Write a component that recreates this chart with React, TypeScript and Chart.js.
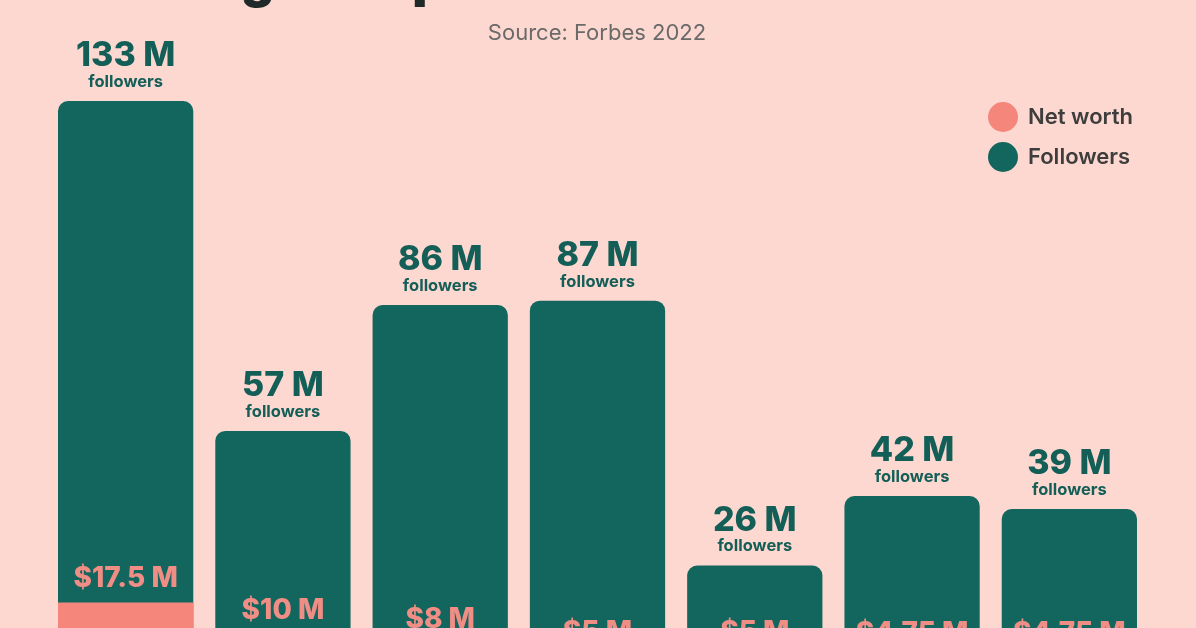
import React, { useEffect, useRef } from "react";
import { Chart, registerables } from "chart.js";

Chart.register(...registerables);

const categories = [
  "Charli D'Amelio",
  "Dixie D'Amelio",
  "Addison Rae",
  "Bella Poarch",
  "Josh Richards",
  "Michael Le",
  "Spencer X",
];
const followers = [133, 57, 86, 87, 26, 42, 39];
const netWorth = [17.5, 10, 8, 5, 5, 4.75, 4.75];
const followerLabels = ["133 M", "57 M", "86 M", "87 M", "26 M", "42 M", "39 M"];
const netWorthLabels = ["$17.5 M", "$10 M", "$8 M", "$5 M", "$5 M", "$4.75 M", "$4.75 M"];
const seriesNames = ["Net worth", "Followers"];
const titleText = "Highest-paid TikTok creators";
const subtitleText = "Source: Forbes 2022";

const BG = "#FDD8D0";
const TEAL = "#12665E";
const TEAL_TEXT = "#135E57";
const CORAL = "#F5867C";
const CORAL_TEXT = "#F08E85";

const decorPlugin = {
  id: "decor",
  beforeDraw(chart: any) {
    const { ctx, width, height } = chart;
    ctx.save();
    ctx.fillStyle = BG;
    ctx.fillRect(0, 0, width, height);
    ctx.restore();
  },
  afterDatasetsDraw(chart: any) {
    const { ctx } = chart;
    const fMeta = chart.getDatasetMeta(1);
    const nMeta = chart.getDatasetMeta(0);
    ctx.save();
    ctx.textAlign = "center";
    ctx.textBaseline = "middle";
    fMeta.data.forEach((bar: any, i: number) => {
      ctx.fillStyle = TEAL_TEXT;
      ctx.font = "800 34px Inter";
      ctx.fillText(followerLabels[i], bar.x, bar.y - 45);
      ctx.font = "700 16.5px Inter";
      ctx.fillText("followers", bar.x, bar.y - 19);
    });
    nMeta.data.forEach((bar: any, i: number) => {
      ctx.fillStyle = CORAL_TEXT;
      ctx.font = "800 28px Inter";
      ctx.fillText(netWorthLabels[i], bar.x, bar.y - 24);
    });
    // title (mostly above the visible area) and subtitle
    ctx.fillStyle = "#1f2a28";
    ctx.font = "900 51px Inter";
    ctx.textAlign = "left";
    ctx.textBaseline = "alphabetic";
    ctx.fillText(titleText, 188, -3);
    ctx.textAlign = "center";
    ctx.fillStyle = "#6a6a6a";
    ctx.font = "400 22px Inter";
    ctx.textBaseline = "middle";
    ctx.fillText(subtitleText, 597, 33);
    // legend
    const colors = [CORAL, TEAL];
    ctx.textAlign = "left";
    seriesNames.forEach((name, i) => {
      const cy = 117 + i * 40;
      ctx.beginPath();
      ctx.arc(1003, cy, 15, 0, Math.PI * 2);
      ctx.fillStyle = colors[i];
      ctx.fill();
      ctx.fillStyle = "#3d3d3d";
      ctx.font = "600 22px Inter";
      ctx.fillText(name, 1028, cy);
    });
    ctx.restore();
  },
};

export default function App() {
  const ref = useRef<HTMLCanvasElement>(null);
  useEffect(() => {
    document.body.style.margin = "0";
    document.body.style.background = BG;
    const chart = new Chart(ref.current!, {
      type: "bar",
      data: {
        labels: categories,
        datasets: [
          {
            label: seriesNames[0],
            data: netWorth,
            backgroundColor: CORAL,
            borderRadius: 0,
            grouped: false,
            order: 0,
            barPercentage: 0.86,
            categoryPercentage: 1,
          } as any,
          {
            label: seriesNames[1],
            data: followers,
            backgroundColor: TEAL,
            borderRadius: { topLeft: 10, topRight: 10, bottomLeft: 0, bottomRight: 0 },
            borderSkipped: false,
            grouped: false,
            order: 1,
            barPercentage: 0.86,
            categoryPercentage: 1,
          } as any,
        ],
      },
      options: {
        animation: false,
        responsive: false,
        maintainAspectRatio: false,
        devicePixelRatio: 1,
        layout: { padding: { left: 47, right: 48, top: 101, bottom: 0 } },
        plugins: { legend: { display: false }, tooltip: { enabled: false } },
        scales: {
          x: { display: false },
          y: { display: false, min: 11.6, max: 133 },
        },
      },
      plugins: [decorPlugin],
    });
    return () => chart.destroy();
  }, []);
  return (
    <div style={{ width: 1196, height: 628, background: BG }}>
      <canvas ref={ref} width={1196} height={628} style={{ display: "block" }} />
    </div>
  );
}
